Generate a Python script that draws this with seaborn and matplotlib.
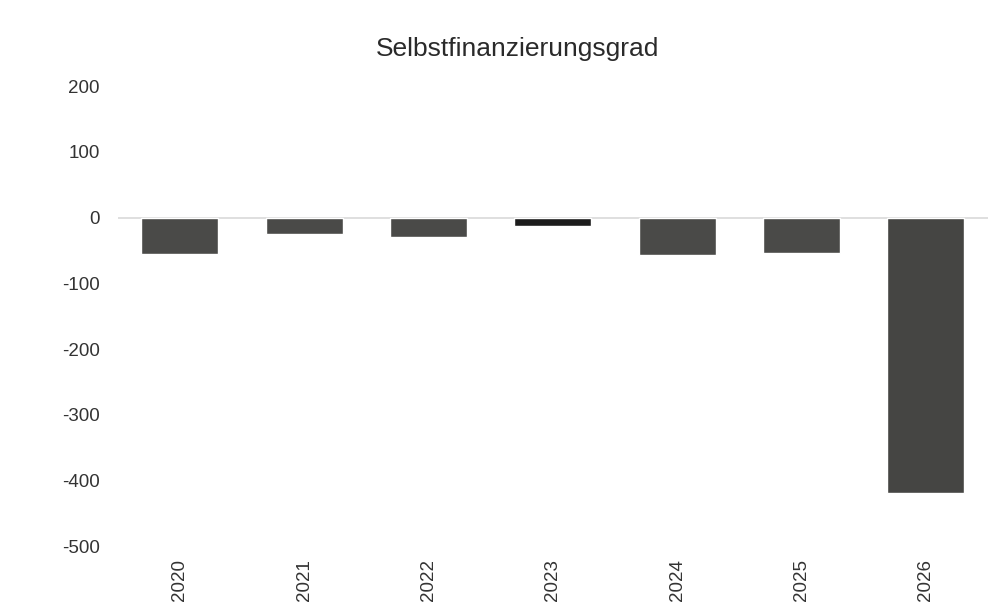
import pandas as pd
import seaborn as sns
import matplotlib.pyplot as plt

years = ['2020', '2021', '2022', '2023', '2024', '2025', '2026']
grad = [-56, -25, -30, -12, -57, -54, -419]
bar_colors = ['#4a4a48', '#4a4a48', '#4a4a48', '#1c1c1c', '#4a4a48', '#4a4a48', '#454543']
y_ticks = [200, 100, 0, -100, -200, -300, -400, -500]

df = pd.DataFrame({'Jahr': years, 'Wert': grad})

sns.set_theme(style='white')
plt.rcParams['font.family'] = ['Liberation Sans', 'DejaVu Sans']

fig = plt.figure(figsize=(10.06, 6.07), dpi=100)
ax = fig.add_axes([0.117, 0.100, 0.865, 0.758])

sns.barplot(data=df, x='Jahr', y='Wert', hue='Jahr', palette=bar_colors,
            legend=False, width=0.62, saturation=1, ax=ax)

ax.set_ylim(-500, 200)
ax.set_xlim(-0.5, 6.5)
ax.axhline(0, color='#d9d9d9', lw=1.2, zorder=0)
sns.despine(ax=ax, left=True, bottom=True)

ax.set_yticks(y_ticks)
ax.set_yticklabels([str(t) for t in y_ticks], fontsize=13.5, color='#333333')
ax.tick_params(axis='y', length=0, pad=13)

# jahreszahlen unten, senkrecht
ax.set_xticks(range(len(years)))
ax.set_xticklabels(years, rotation=90, fontsize=13.5, color='#333333')
ax.tick_params(axis='x', length=0, pad=9)

ax.set_xlabel('')
ax.set_ylabel('')
fig.text(0.514, 0.92, 'Selbstfinanzierungsgrad', ha='center', va='center',
         fontsize=19, color='#2a2a2a')

fig.savefig('out.png', dpi=100, facecolor='white')
